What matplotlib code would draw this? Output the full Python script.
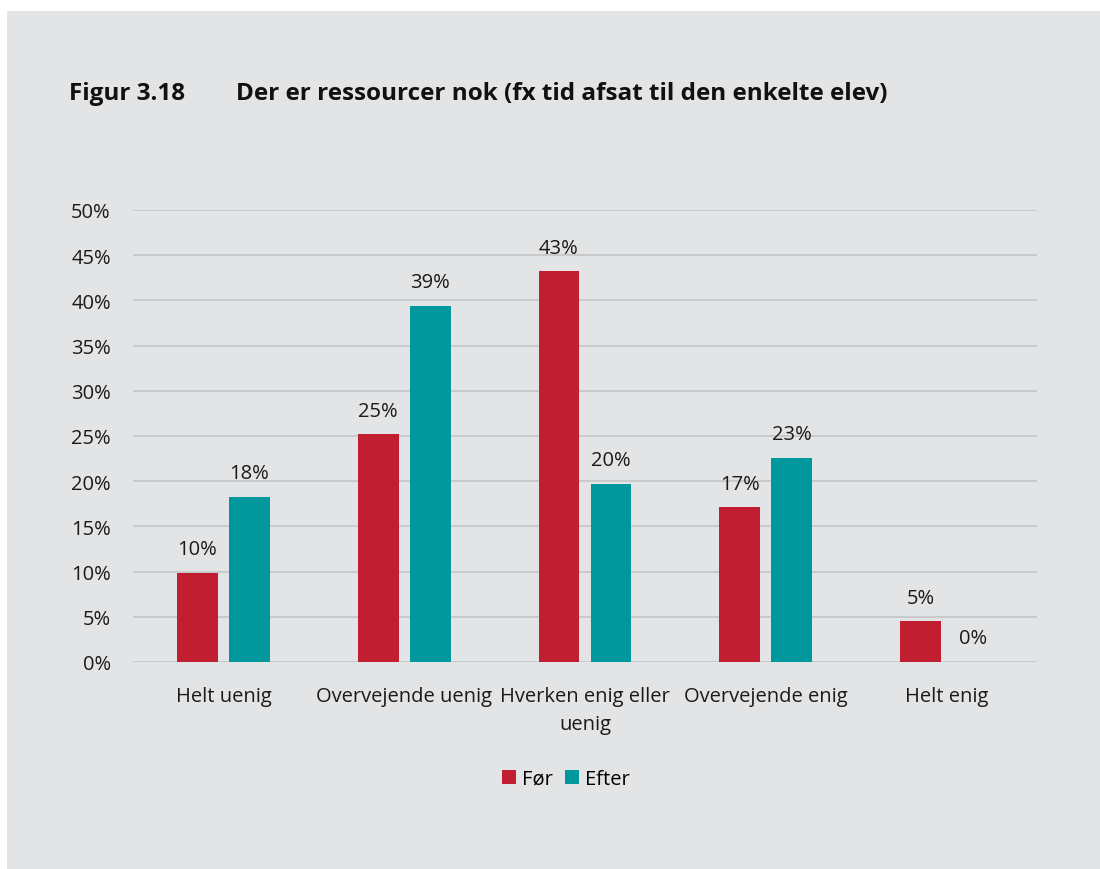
import numpy as np
import matplotlib.pyplot as plt
from matplotlib.patches import Rectangle

# Data
categories = ['Helt uenig', 'Overvejende uenig', 'Hverken enig eller\nuenig',
              'Overvejende enig', 'Helt enig']
foer = [9.9, 25.2, 43.2, 17.1, 4.5]
efter = [18.3, 39.4, 19.7, 22.6, 0.0]
foer_labels = ['10%', '25%', '43%', '17%', '5%']
efter_labels = ['18%', '39%', '20%', '23%', '0%']

red = '#c01f32'
teal = '#00989d'
bg = '#e3e4e5'

plt.rcParams['font.family'] = ['Open Sans', 'DejaVu Sans']

fig = plt.figure(figsize=(11, 8.7), dpi=100, facecolor='white')
fig.patches.append(Rectangle((7 / 1100, 0), 1, (870 - 12) / 870,
                             transform=fig.transFigure, facecolor=bg,
                             edgecolor='none', zorder=-5))

ax = fig.add_axes([133 / 1100, 1 - 663 / 870, (1037 - 133) / 1100, (663 - 211) / 870])
ax.set_facecolor(bg)
ax.set_zorder(2)

x = np.arange(len(categories))
w = 0.225
off = 0.144
b1 = ax.bar(x - off, foer, w, color=red, label='Før', zorder=3)
b2 = ax.bar(x + off, efter, w, color=teal, label='Efter', zorder=3)

for rect, lab in zip(b1, foer_labels):
    ax.text(rect.get_x() + rect.get_width() / 2, rect.get_height() + 1.5, lab,
            ha='center', va='bottom', fontsize=14.5, color='#1a1a1a')
for rect, lab in zip(b2, efter_labels):
    ax.text(rect.get_x() + rect.get_width() / 2, rect.get_height() + 1.5, lab,
            ha='center', va='bottom', fontsize=14.5, color='#1a1a1a')

ax.set_xlim(-0.5, len(categories) - 0.5)
ax.set_ylim(0, 50)
ax.set_yticks(np.arange(0, 51, 5))
ax.set_yticklabels([f'{v}%' for v in range(0, 51, 5)])
ax.set_xticks(x)
ax.set_xticklabels(categories, linespacing=1.55)
ax.tick_params(axis='both', length=0, labelsize=14.5, colors='#1a1a1a')
ax.tick_params(axis='y', pad=16)
ax.tick_params(axis='x', pad=17)
ax.grid(axis='y', color='#c4c5c7', linewidth=1.2, zorder=0)
for s in ax.spines.values():
    s.set_visible(False)

fig.text(69 / 1100, 1 - 94 / 870, 'Figur 3.18', fontsize=17.5, fontweight='bold',
         va='center', ha='left', color='#111111')
fig.text(236 / 1100, 1 - 94 / 870, 'Der er ressourcer nok (fx tid afsat til den enkelte elev)',
         fontsize=17.5, fontweight='bold', va='center', ha='left', color='#111111')

fig.legend(handles=[b1, b2], labels=['Før', 'Efter'], loc='center',
           bbox_to_anchor=(566 / 1100, 1 - 780 / 870), ncol=2, frameon=False,
           fontsize=14.5, handlelength=0.7, handleheight=0.7, handletextpad=0.3,
           columnspacing=0.6)

fig.savefig('out.png', dpi=100, facecolor=fig.get_facecolor())
